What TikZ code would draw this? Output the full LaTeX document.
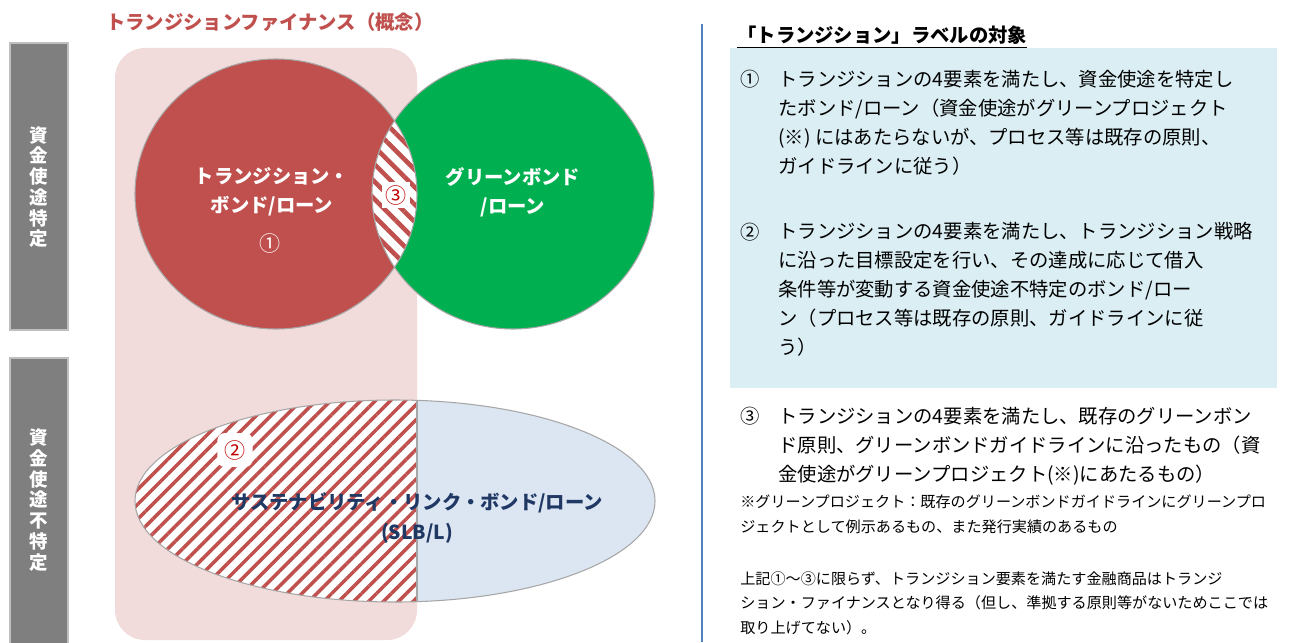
\documentclass[tikz,border=0pt]{standalone}
\usepackage{fontspec}
\setmainfont{Noto Sans CJK JP}
\usetikzlibrary{patterns.meta}
\definecolor{rot}{HTML}{C0504D}
\definecolor{gruen}{HTML}{00B050}
\definecolor{rosa}{HTML}{F2DCDB}
\definecolor{hellblau}{HTML}{DCE6F2}
\definecolor{kasten}{HTML}{DAEEF3}
\definecolor{balkengrau}{HTML}{7F7F7F}
\definecolor{balkenrand}{HTML}{BFBFBF}
\definecolor{randgrau}{HTML}{A6A6A6}
\definecolor{linienblau}{HTML}{4F81BD}
\definecolor{dunkelblau}{HTML}{1F3864}
\definecolor{nrrot}{HTML}{C00000}
\begin{document}
\begin{tikzpicture}[x=0.02cm,y=-0.02cm,
		rand/.style={draw=randgrau,line width=0.6pt},
		balken/.style={fill=balkengrau,draw=balkenrand,line width=0.8pt},
		balkentext/.style={text=white,align=center,font=\bfseries\fontsize{10.5}{11.8}\selectfont},
		weiss/.style={text=white,align=center,font=\bfseries\fontsize{11}{16.5}\selectfont},
		nr/.style={anchor=base west,inner sep=0pt,font=\fontsize{11}{16.5}\selectfont},
		lang/.style={anchor=base west,align=left,inner sep=0pt,font=\fontsize{11}{16.5}\selectfont},
		klein/.style={anchor=base west,align=left,inner sep=0pt,font=\fontsize{8.6}{13.7}\selectfont}]
		\useasboundingbox (0,0) rectangle (1293,642);
		
		\draw[balken] (10,43) rectangle (68,330);
		\draw[balken] (10,358) rectangle (68,650);
		\node[balkentext] at (39,187) (spez) {資\\金\\使\\途\\特\\定};
		\node[balkentext] at (39,500) (unspez) {資\\金\\使\\途\\不\\特\\定};
		
		\fill[rosa,rounded corners=17pt] (115,48) rectangle (417,640);
		
		\fill[rot] (276,194) ellipse [x radius=141,y radius=135];
		\fill[gruen] (513,194) ellipse [x radius=141,y radius=135];
		\begin{scope}
			\clip (276,194) ellipse [x radius=141,y radius=135];
			\fill[white] (513,194) ellipse [x radius=141,y radius=135];
			\fill[pattern={Lines[angle=-45,distance=7pt,line width=2.6pt]},pattern color=rot] (513,194) ellipse [x radius=141,y radius=135];
		\end{scope}
		\draw[rand] (276,194) ellipse [x radius=141,y radius=135];
		\draw[rand] (513,194) ellipse [x radius=141,y radius=135];
		
		\fill[hellblau] (395,501) ellipse [x radius=260,y radius=101];
		\begin{scope}
			\clip (0,0) rectangle (417,642);
			\fill[white] (395,501) ellipse [x radius=260,y radius=101];
			\fill[pattern={Lines[angle=45,distance=6pt,line width=2pt]},pattern color=rot] (395,501) ellipse [x radius=260,y radius=101];
		\end{scope}
		\begin{scope}
			\clip (395,501) ellipse [x radius=260,y radius=101];
			\draw[rand] (417,390) -- (417,615);
		\end{scope}
		\draw[rand] (395,501) ellipse [x radius=260,y radius=101];
		
		\node[anchor=west,text=rot,font=\bfseries\fontsize{11}{13}\selectfont] at (100,22) (titel) {トランジションファイナンス（概念）};
		
		\node[weiss] at (272,192) (tbl) {トランジション・\\ボンド/ローン};
		\node[weiss] at (513,192) (gbl) {グリーンボンド\\/ローン};
		\node[text=white,font=\fontsize{12}{12}\selectfont] at (270,243) (nr1) {①};
		\node[fill=white,text=nrrot,inner sep=2pt,font=\fontsize{12}{12}\selectfont] at (396,195) (nr3) {③};
		\node[fill=white,text=nrrot,inner sep=4pt,rounded corners=4pt,font=\fontsize{12}{12}\selectfont] at (235,450) (nr2) {②};
		\node[text=dunkelblau,align=center,font=\bfseries\fontsize{11}{17}\selectfont] at (417,518) (slb) {サステナビリティ・リンク・ボンド/ローン\\(SLB/L)};
		
		\draw[linienblau,line width=1pt] (702,24) -- (702,642);
		\fill[kasten] (730,48) rectangle (1277,388);
		\node[anchor=base west,inner sep=0pt,font=\bfseries\fontsize{11}{13}\selectfont] at (737,43) (kopf) {\underline{「トランジション」ラベルの対象}};
		
		\node[nr] at (740,87) (p1) {①};
		\node[lang] at (778,173) (t1) {トランジションの4要素を満たし、資金使途を特定し\\たボンド/ローン（資金使途がグリーンプロジェクト\\(※) にはあたらないが、プロセス等は既存の原則、\\ガイドラインに従う）};
		
		\node[nr] at (740,239) (p2) {②};
		\node[lang] at (778,354) (t2) {トランジションの4要素を満たし、トランジション戦略\\に沿った目標設定を行い、その達成に応じて借入\\条件等が変動する資金使途不特定のボンド/ロー\\ン（プロセス等は既存の原則、ガイドラインに従\\う）};
		
		\node[nr] at (740,423) (p3) {③};
		\node[lang] at (778,481) (t3) {トランジションの4要素を満たし、既存のグリーンボン\\ド原則、グリーンボンドガイドラインに沿ったもの（資\\金使途がグリーンプロジェクト(※)にあたるもの）};
		
		\node[klein] at (740,532) (anm) {※グリーンプロジェクト：既存のグリーンボンドガイドラインにグリーンプロ\\ジェクトとして例示あるもの、また発行実績のあるもの};
		\node[klein] at (740,633) (fazit) {上記①～③に限らず、トランジション要素を満たす金融商品はトランジ\\ション・ファイナンスとなり得る（但し、準拠する原則等がないためここでは\\取り上げてない）。};
\end{tikzpicture}
\end{document}
